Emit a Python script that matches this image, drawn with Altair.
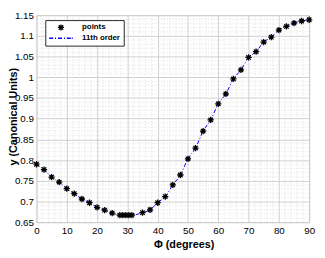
import altair as alt
import pandas as pd

# Data
phi_deg = [0, 2.5, 5, 7.5, 10, 12.5, 15, 17.5, 20, 22.5, 25, 27.5, 28.5, 29.5, 30.5, 31.5,
           35, 37.5, 40, 42.5, 45, 47.5, 50, 52.5, 55, 57.5, 60, 62.5, 65, 67.5, 70, 72.5,
           75, 77.5, 80, 82.5, 85, 87.5, 90]
y_vals = [0.790, 0.777, 0.759, 0.747, 0.731, 0.719, 0.706, 0.697, 0.686, 0.679, 0.672,
          0.667, 0.667, 0.667, 0.667, 0.667, 0.673, 0.680, 0.697, 0.712, 0.740, 0.764,
          0.803, 0.829, 0.870, 0.897, 0.936, 0.960, 0.996, 1.018, 1.048, 1.062, 1.085,
          1.097, 1.114, 1.123, 1.131, 1.136, 1.139]
series_names = ["points", "11th order"]
x_ticks = [0, 10, 20, 30, 40, 50, 60, 70, 80, 90]
y_ticks = [0.65, 0.7, 0.75, 0.8, 0.85, 0.9, 0.95, 1.0, 1.05, 1.1, 1.15]
x_minor = [v for v in range(2, 90, 2) if v % 10 != 0]
y_minor = [round(0.65 + 0.01 * i, 2) for i in range(1, 50) if i % 5 != 0]

FONT = "Liberation Sans"
df = pd.DataFrame({"phi": phi_deg, "y": y_vals})
xminor_df = pd.DataFrame({"phi": x_minor})
yminor_df = pd.DataFrame({"y": y_minor})
legend_df = pd.DataFrame({"series": series_names, "phi": [0, 0], "y": [0.65, 0.65]})

xscale = alt.Scale(domain=[0, 90], nice=False, zero=False)
yscale = alt.Scale(domain=[0.65, 1.15], nice=False, zero=False)

xaxis = alt.Axis(values=x_ticks, format="d", title="Φ (degrees)", ticks=False, domain=False,
                 gridColor="#c4c4c4", gridWidth=0.8, labelPadding=4, labelFlush=False,
                 titleX=150, titleY=26, titleBaseline="alphabetic", titleAlign="center")
yaxis = alt.Axis(values=y_ticks, format="~g", title="y (Canonical Units)", ticks=False,
                 domain=False, gridColor="#c4c4c4", gridWidth=0.8, labelPadding=3,
                 labelFlush=False,
                 titleX=-20, titleY=103, titleAngle=-90, titleAlign="center",
                 titleBaseline="alphabetic")

minor_x = alt.Chart(xminor_df).mark_rule(color="#d2d2d2", strokeWidth=0.7, strokeDash=[1, 2]).encode(
    x=alt.X("phi:Q", scale=xscale, axis=xaxis))
minor_y = alt.Chart(yminor_df).mark_rule(color="#d2d2d2", strokeWidth=0.7, strokeDash=[1, 2]).encode(
    y=alt.Y("y:Q", scale=yscale, axis=yaxis))

line = alt.Chart(df).mark_line(color="#0000ff", strokeWidth=1, strokeDash=[4, 2, 1, 2],
                               interpolate="monotone").encode(
    x=alt.X("phi:Q", scale=xscale, axis=xaxis),
    y=alt.Y("y:Q", scale=yscale, axis=yaxis))

pts = alt.Chart(df).mark_point(
    shape="M-1,0H1M0,-1V1M-0.7,-0.7L0.7,0.7M-0.7,0.7L0.7,-0.7",
    size=41, color="black", strokeWidth=1.3, filled=False, opacity=1).encode(
    x=alt.X("phi:Q", scale=xscale, axis=xaxis),
    y=alt.Y("y:Q", scale=yscale, axis=yaxis))

legend_shapes = [
    "M-0.7,0H0.7M0,-0.7V0.7M-0.5,-0.5L0.5,0.5M-0.5,0.5L0.5,-0.5",
    "M-2.667,0H-1.778M-1.333,0H-1.111M-0.667,0H0.222M0.667,0H0.889M1.333,0H2.222M2.444,0H2.667",
]
leg_opts = dict(title=None, orient="none", legendX=9, legendY=5,
                padding=3, fillColor="white", strokeColor="#262626",
                symbolSize=81, symbolOffset=7.5, labelOffset=16, clipHeight=9,
                labelFont=FONT, labelFontSize=8, labelFontWeight="bold",
                labelColor="black", rowPadding=2, symbolStrokeWidth=1.3,
                symbolFillColor="transparent")
leg = alt.Chart(legend_df).transform_filter("datum.phi < -1000").mark_point(
    filled=False, opacity=1, strokeWidth=1.3).encode(
    x=alt.X("phi:Q", scale=xscale, axis=xaxis),
    y=alt.Y("y:Q", scale=yscale, axis=yaxis),
    color=alt.Color("series:N", scale=alt.Scale(domain=series_names, range=["black", "#0000ff"]),
                    legend=alt.Legend(**leg_opts)),
    shape=alt.Shape("series:N", scale=alt.Scale(domain=series_names, range=legend_shapes),
                    legend=alt.Legend(**leg_opts)),
)

chart = alt.layer(minor_x, minor_y, line, pts, leg).properties(
    width=278, height=211,
    autosize=alt.AutoSizeParams(type="none"),
    padding={"left": 29, "top": 5, "right": 8, "bottom": 26},
).configure_view(stroke="#262626", strokeWidth=1).configure_axis(
    labelFont=FONT, labelFontSize=9, labelFontWeight="bold", labelColor="black",
    titleFont=FONT, titleFontSize=9.5, titleFontWeight="bold", titleColor="black",
).configure(background="white")

chart.save("out.html", embed_options={"renderer": "svg", "actions": False})
